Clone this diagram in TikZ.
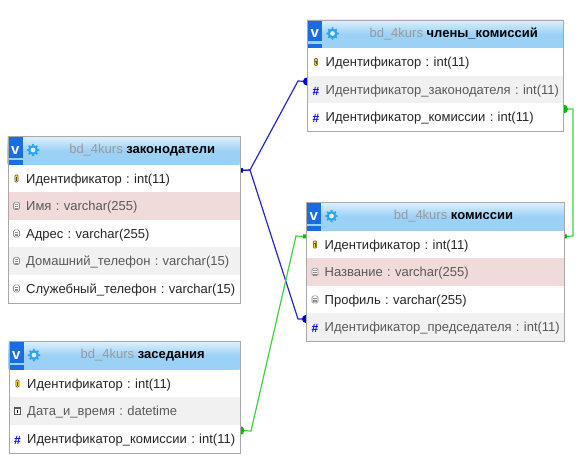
\documentclass[tikz,border=0pt]{standalone}
\usepackage{fontspec}
\setmainfont{Liberation Sans}
\usetikzlibrary{arrows.meta, backgrounds}

\definecolor{headtop}{HTML}{DDF1FC}
\definecolor{headlow}{HTML}{9CD1F6}
\definecolor{framegray}{HTML}{A9A9A9}
\definecolor{rowpink}{HTML}{F1DADA}
\definecolor{rowgrey}{HTML}{F1F1F1}
\definecolor{btnblue}{HTML}{1A6CE0}
\definecolor{gearblue}{HTML}{2FA4EE}
\definecolor{linkblue}{HTML}{2626CC}
\definecolor{dotblue}{HTML}{0000C0}
\definecolor{linkgreen}{HTML}{3CD23C}
\definecolor{dotgreen}{HTML}{00BB00}

\tikzset{
	keyicon/.pic={
		\draw[draw=black!70, fill=yellow!70!orange, rounded corners=1pt, line width=0.5pt] (-1.6,-3.6) rectangle (1.6,3.6);
		\draw[black!70, line width=0.5pt] (-0.8,-1.2) -- (0.8,-1.2) (0,-1.2) -- (0,2.5);
	},
	colicon/.pic={
		\draw[draw=black!45, fill=white, rounded corners=1.5pt, line width=0.7pt] (-3,-3.6) rectangle (3,3.6);
		\draw[black!45, line width=0.6pt] (-1.7,-1.4) -- (1.7,-1.4) (-1.7,0.4) -- (1.7,0.4) (-1.7,2.1) -- (1.7,2.1);
	},
	dateicon/.pic={
		\draw[draw=black!65, fill=white, line width=0.7pt] (-3,-3.2) rectangle (3,3.2);
		\fill[black!65] (-3,-3.2) rectangle (3,-1.6);
		\draw[black, line width=0.7pt] (0,-0.8) -- (0,2.4);
	},
	hashicon/.pic={
		\node[text=blue, font=\fontsize{12}{14}\selectfont\bfseries, inner sep=0pt] (hash) at (0,1.5) {\#};
	}
}

% name, x, y of the top, width, height, title, rows
\newcommand{\dbtable}[7]{
	\node[headbox, minimum width=#4, anchor=north west] (#1head) at (#2,#3) {};
	\node[btnbox, anchor=north west] (#1btn) at (#2,#3) {\textbf{v}};
	\fill[headlow] ([yshift=-21.5pt]#1btn.north west) rectangle ([yshift=-24pt]#1btn.north east);
	\fill[gearblue] ([xshift=25.5pt,yshift=-14pt]#1head.north west) circle (5pt);
	\foreach \tooth in {0,45,...,315}
		\fill[gearblue] ([xshift=25.5pt,yshift=-14pt]#1head.north west) ++(\tooth:5.3) circle (1.2pt);
	\fill[headlow!35] ([xshift=25.5pt,yshift=-14pt]#1head.north west) circle (2.4pt);
	\node[titletext] (#1title) at ([xshift=18.5pt]#1head.center) {\textcolor{black!40}{bd\_4kurs} \textbf{#6}};
	\foreach \n/\rowstyle/\icon/\txt in {#7}{
		\node[\rowstyle, text width=#4pt, anchor=north west] (#1\n) at (#2,{#3+28.5+(\n-1)*27.5}) {\hspace*{18.5pt}\txt};
		\pic at ([xshift=9pt]#1\n.west) {\icon};
		\coordinate (#1\n e) at ([yshift=-6pt]#1\n.north east);
		\coordinate (#1\n w) at ([yshift=-6pt]#1\n.north west);
	}
	\node[framebox, minimum width=#4, minimum height=#5, anchor=north west] (#1box) at (#2,#3) {};
}

\begin{document}
\begin{tikzpicture}[x=1pt, y=-1pt, >=latex]
	\tikzstyle{headbox} = [minimum height=28.5pt, inner sep=0pt, top color=headtop, bottom color=headlow, middle color=headlow]
	\tikzstyle{btnbox} = [fill=btnblue, text=white, minimum width=15pt, minimum height=28.5pt, inner sep=0pt, font=\fontsize{15}{15}\selectfont]
	\tikzstyle{titletext} = [inner sep=0pt, font=\fontsize{13}{15}\selectfont\frenchspacing]
	\tikzstyle{plainrow} = [fill=white, text=black!85, minimum height=27.5pt, inner sep=0pt, align=left, font=\fontsize{13}{15}\selectfont\frenchspacing, text height=12pt, text depth=2pt]
	\tikzstyle{pinkrow} = [plainrow, fill=rowpink, text=black!65]
	\tikzstyle{greyrow} = [plainrow, fill=rowgrey, text=black!65]
	\tikzstyle{framebox} = [draw=framegray, line width=1.3pt, inner sep=0pt]
	\tikzstyle{bluelink} = [draw=linkblue, line width=1.2pt]
	\tikzstyle{greenlink} = [draw=linkgreen, line width=1.2pt]

	\useasboundingbox (0,0) rectangle (579,461);

	\dbtable{zk}{7.5}{136}{232}{166.5}{законодатели}{
		1/plainrow/keyicon/Идентификатор : int(11),
		2/pinkrow/colicon/Имя : varchar(255),
		3/plainrow/colicon/Адрес : varchar(255),
		4/greyrow/colicon/Домашний\_телефон : varchar(15),
		5/plainrow/colicon/Служебный\_телефон : varchar(15)}
	\dbtable{zs}{8.5}{341}{231}{112}{заседания}{
		1/plainrow/keyicon/Идентификатор : int(11),
		2/greyrow/dateicon/Дата\_и\_время : datetime,
		3/plainrow/hashicon/Идентификатор\_комиссии : int(11)}
	\dbtable{ch}{307}{19.5}{256}{111.5}{члены\_комиссий}{
		1/plainrow/keyicon/Идентификатор : int(11),
		2/greyrow/hashicon/Идентификатор\_законодателя : int(11),
		3/plainrow/hashicon/Идентификатор\_комиссии : int(11)}
	\dbtable{km}{306}{202}{257.5}{139}{комиссии}{
		1/plainrow/keyicon/Идентификатор : int(11),
		2/pinkrow/colicon/Название : varchar(255),
		3/plainrow/colicon/Профиль : varchar(255),
		4/greyrow/hashicon/Идентификатор\_председателя : int(11)}

	\coordinate (zkfork) at (250,170);
	\coordinate (chbend) at (298,81);
	\coordinate (kmbend) at (298,319);
	\coordinate (zsbend) at (251,431);
	\coordinate (kmgbend) at (296,236);
	\coordinate (rtop) at (573,109);
	\coordinate (rlow) at (573,236);

	\begin{pgfonlayer}{background}
	\draw[bluelink, {Square[length=3pt, width=4pt, color=dotblue]}-{Circle[length=8pt, color=dotblue]}, shorten >=-4pt] (zk1e) -- (zkfork) -- (chbend) -- (ch2w);
	\draw[bluelink, {Square[length=3pt, width=4pt, color=dotblue]}-{Circle[length=8pt, color=dotblue]}, shorten >=-4pt] (zk1e) -- (zkfork) -- (kmbend) -- (km4w);
	\draw[greenlink, {Circle[length=9pt, color=dotgreen]}-{Square[length=3pt, width=4pt, color=dotgreen]}, shorten <=-4.5pt] (ch3e) -- (rtop) -- (rlow) -- (km1e);
	\draw[greenlink, {Circle[length=9pt, color=dotgreen]}-{Square[length=3pt, width=4pt, color=dotgreen]}, shorten <=-4.5pt] (zs3e) -- (zsbend) -- (kmgbend) -- (km1w);
	\end{pgfonlayer}
\end{tikzpicture}
\end{document}
